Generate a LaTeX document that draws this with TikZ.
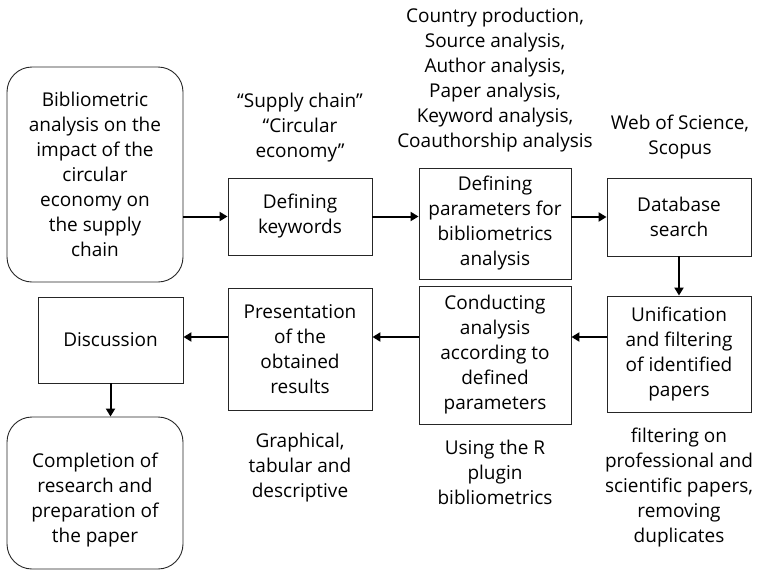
\documentclass[tikz,border=0pt]{standalone}
\usepackage{fontspec}
\setmainfont{Open Sans}
\usetikzlibrary{arrows.meta}
\begin{document}
\begin{tikzpicture}[x=1pt,y=-1pt,
  txt/.style={align=center,font=\fontsize{19}{25}\selectfont,inner sep=0pt},
  box/.style={txt,draw=black!85,line width=0.9pt},
  rbox/.style={box,rounded corners=25pt},
  arr/.style={line width=2pt,-{Triangle[length=8pt,width=9pt]}}]
\useasboundingbox (0,0) rectangle (759,570);
\node[rbox,minimum width=176pt,minimum height=215pt] (start) at (95,174.5)
  {Bibliometric\\analysis on the\\impact of the\\circular\\economy on\\the supply\\chain};
\node[box,minimum width=144pt,minimum height=77pt] (keywords) at (300,216.5)
  {Defining\\keywords};
\node[box,minimum width=152pt,minimum height=111pt] (params) at (495,223.5)
  {Defining\\parameters for\\bibliometrics\\analysis};
\node[box,minimum width=144pt,minimum height=78pt] (database) at (679,217)
  {Database\\search};
\node[box,minimum width=144pt,minimum height=116pt] (unif) at (679,354)
  {Unification\\and filtering\\of identified\\papers};
\node[box,minimum width=152pt,minimum height=138pt] (conduct) at (495,355)
  {Conducting\\analysis\\according to\\defined\\parameters};
\node[box,minimum width=144pt,minimum height=122pt] (present) at (300,349)
  {Presentation\\of the\\obtained\\results};
\node[box,minimum width=145pt,minimum height=86pt] (discuss) at (110.5,340)
  {Discussion};
\node[rbox,minimum width=176pt,minimum height=152pt] (complete) at (95,493) {};
\node[txt] (completetext) at (95,500)
  {Completion of\\research and\\preparation of\\the paper};
% labels
\node[txt] (lkey) at (300,128) {“Supply chain”\\“Circular\\economy”};
\node[txt] (lpar) at (495,80.5) {Country production,\\Source analysis,\\Author analysis,\\Paper analysis,\\Keyword analysis,\\Coauthorship analysis};
\node[txt] (ldb) at (680,137.5) {Web of Science,\\Scopus};
\node[txt] (lcon) at (495,472.5) {Using the R\\plugin\\bibliometrics};
\node[txt] (lpre) at (300,468) {Graphical,\\tabular and\\descriptive};
\node[txt] (lunif) at (679,488) {filtering on\\professional and\\scientific papers,\\removing\\duplicates};
% arrows
\coordinate (row) at (0,337);
\draw[arr] (start.east |- keywords.west) -- (keywords.west);
\draw[arr] (keywords.east) -- (keywords.east -| params.west);
\draw[arr] (params.east |- database.west) -- (database.west);
\draw[arr] (database.south) -- (database.south |- unif.north);
\draw[arr] (unif.west |- row) -- (conduct.east |- row);
\draw[arr] (conduct.west |- row) -- (present.east |- row);
\draw[arr] (present.west |- row) -- (discuss.east |- row);
\draw[arr] (discuss.south) -- (discuss.south |- complete.north);
\end{tikzpicture}
\end{document}
